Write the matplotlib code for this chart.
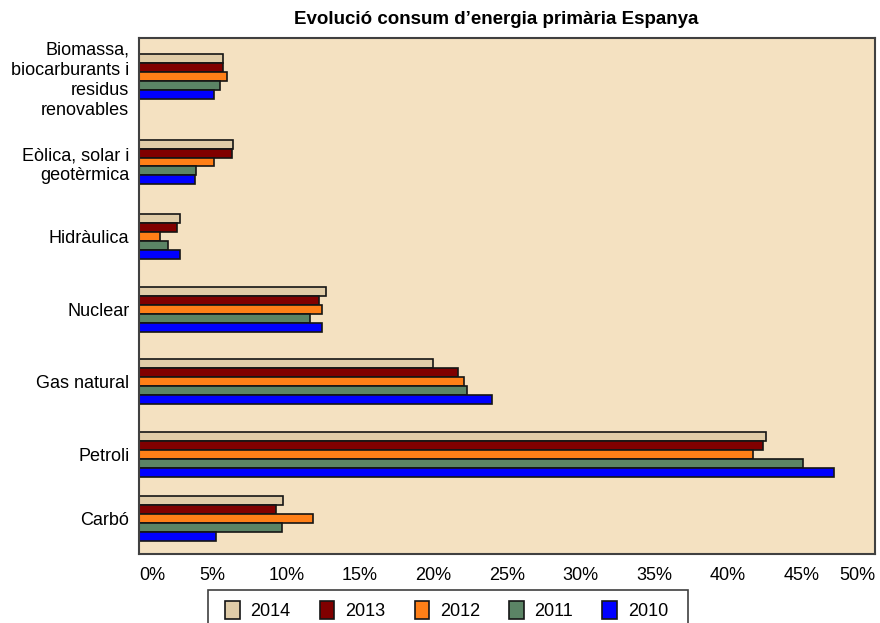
import matplotlib
matplotlib.use("Agg")
import matplotlib.pyplot as plt
from matplotlib.patches import Rectangle
import numpy as np

plt.rcParams['font.family'] = ['Liberation Sans', 'DejaVu Sans']

categories = ["Biomassa,\nbiocarburants i\nresidus\nrenovables",
              "Eòlica, solar i\ngeotèrmica",
              "Hidràulica",
              "Nuclear",
              "Gas natural",
              "Petroli",
              "Carbó"]
years = ["2014", "2013", "2012", "2011", "2010"]
v2014 = [5.7, 6.4, 2.8, 12.7, 20.0, 42.6, 9.8]
v2013 = [5.7, 6.3, 2.6, 12.2, 21.7, 42.4, 9.3]
v2012 = [6.0, 5.1, 1.4, 12.4, 22.1, 41.7, 11.8]
v2011 = [5.5, 3.9, 2.0, 11.6, 22.3, 45.1, 9.7]
v2010 = [5.1, 3.8, 2.8, 12.4, 24.0, 47.2, 5.2]
series = [v2014, v2013, v2012, v2011, v2010]
colors = ["#E0CCA8", "#800000", "#FF7F17", "#5B8465", "#0000FF"]
xticks = [0, 5, 10, 15, 20, 25, 30, 35, 40, 45, 50]
xticklabels = [f"{t}%" for t in xticks]

# layout: group centre positions (in pixel rows of the reference plot area)
ax_top, ax_bot = 38, 554
slot = (ax_bot - ax_top) / 7
group_px = [76.5, 162, 236.5, 309.5, 381.5, 454.5, 518.5]
ypos = np.array([(ax_bot - p) / slot - 0.5 for p in group_px])

W, H = 880, 623
fig = plt.figure(figsize=(8.8, 6.23), dpi=100)
ax = fig.add_axes([139/W, 1-ax_bot/H, (875-139)/W, (ax_bot-ax_top)/H])
ax.set_facecolor("#F4E1C1")

h = 0.122
for i, (vals, c, yr) in enumerate(zip(series, colors, years)):
    offs = (2 - i) * h
    ax.barh(ypos + offs, vals, height=h, color=c, edgecolor="#151515",
            linewidth=1.2, label=yr)

ax.set_xlim(0, 50)
ax.set_ylim(-0.5, 6.5)
ax.set_yticks(ypos)
ax.set_yticklabels(categories, fontsize=13, ma='right', linespacing=1.25)
ax.set_xticks(xticks)
labs = ax.set_xticklabels(xticklabels, fontsize=13)
labs[0].set_ha('left')
labs[-1].set_ha('right')
ax.tick_params(axis='both', length=0)
ax.tick_params(axis='y', pad=7)
ax.tick_params(axis='x', pad=9)
for s in ax.spines.values():
    s.set_color("#404040")
    s.set_linewidth(1.5)

fig.text(496/W, 1-19/H, "Evolució consum d’energia primària Espanya",
         ha='center', va='center', fontsize=13.5, fontweight='bold')

# legend box (clipped by the bottom edge as in the reference)
fig.patches.append(Rectangle((208/W, 1-640/H), (688-208)/W, 50/H,
                             transform=fig.transFigure, fill=False,
                             edgecolor="#404040", linewidth=1.2))
leg = fig.legend(loc='upper left', bbox_to_anchor=(214/W, 1-590/H),
                 ncol=5, fontsize=13, frameon=False,
                 handlelength=0.8, handleheight=1.1, handletextpad=0.6,
                 columnspacing=1.62, borderpad=0.62, borderaxespad=0)

fig.savefig("out.png", dpi=100)
